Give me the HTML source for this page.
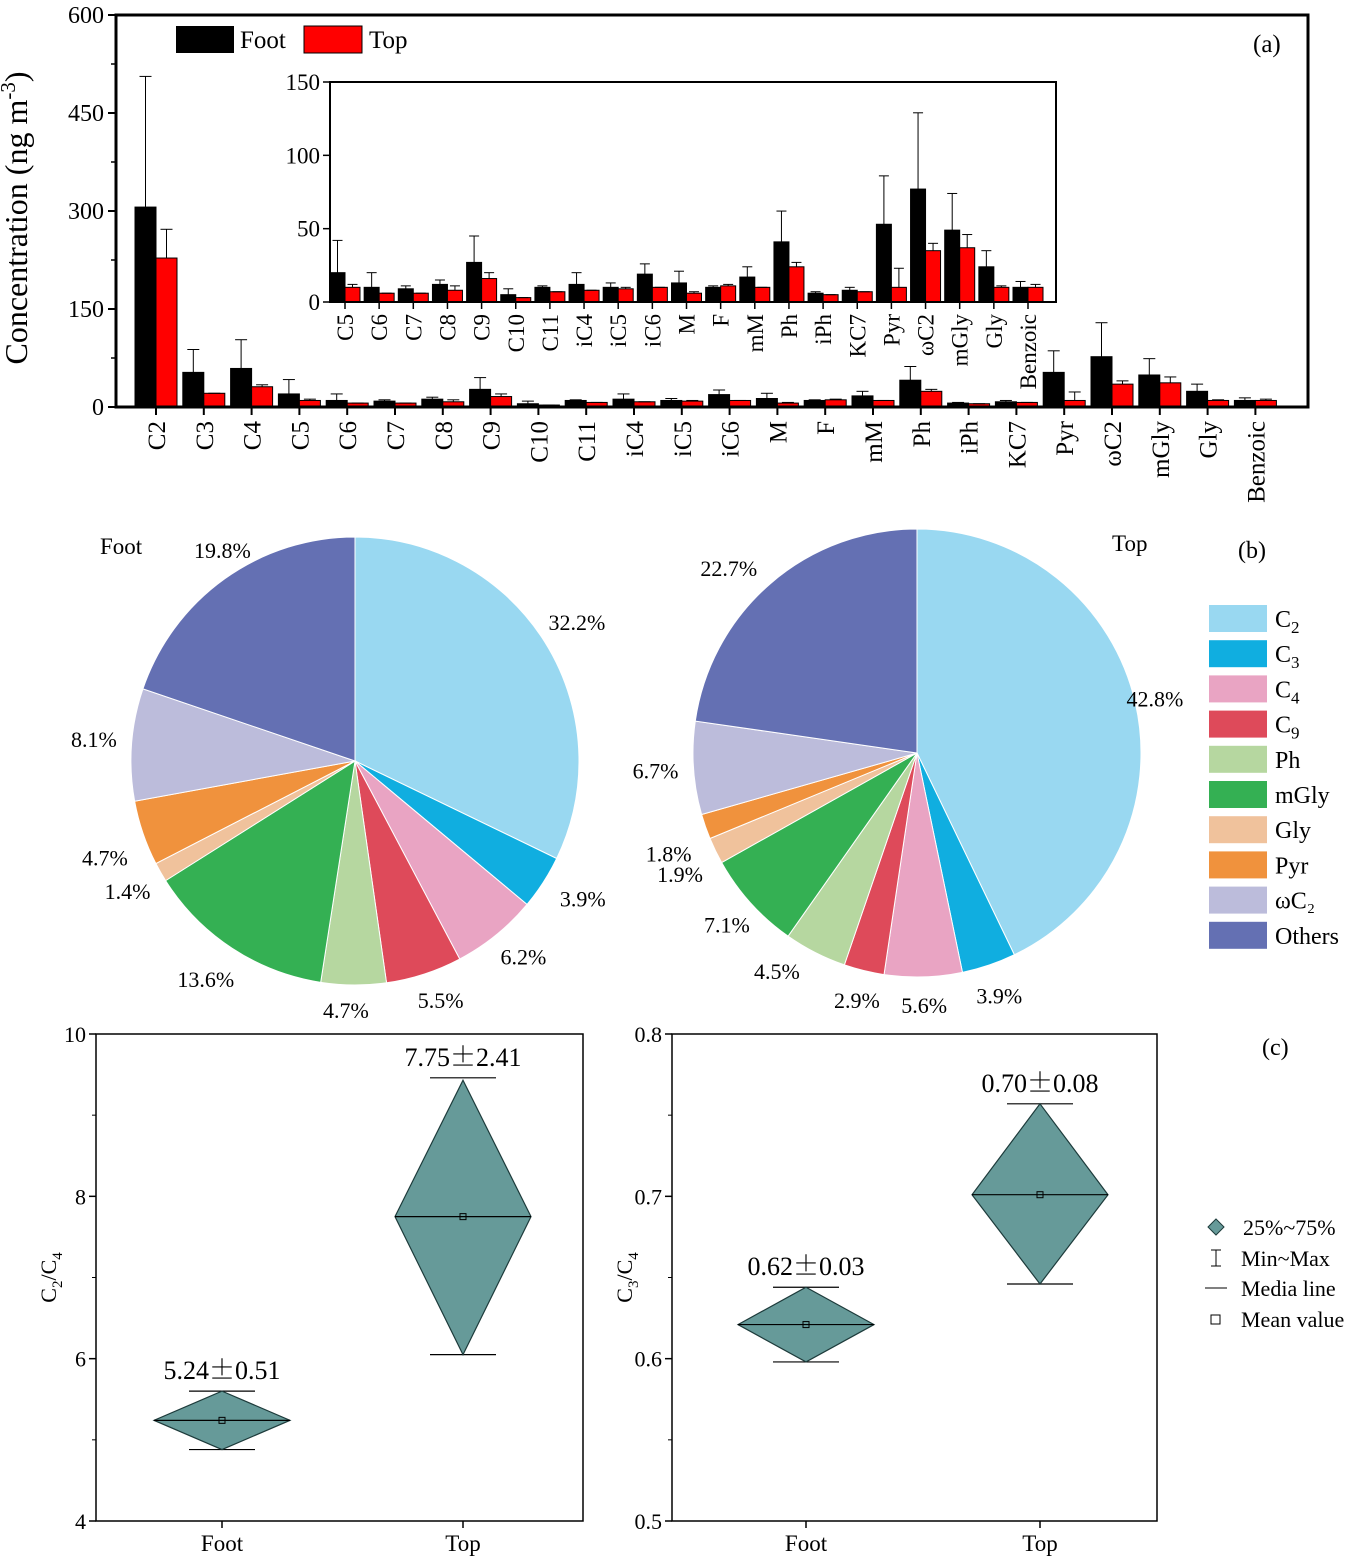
<!DOCTYPE html>
<html><head><meta charset="utf-8"><style>
body{margin:0;background:#fff;}
svg{display:block;font-family:"Liberation Serif","Noto Serif CJK SC",serif;}
</style></head><body>
<svg id="fig" width="1360" height="1560" viewBox="0 0 1360 1560"></svg>
<script>
const cats=["C2","C3","C4","C5","C6","C7","C8","C9","C10","C11","iC4","iC5","iC6","M","F","mM","Ph","iPh","KC7","Pyr","ωC2","mGly","Gly","Benzoic"];
const footVals=[306,53,59,20,10,9,12,27,5,10,12,10,19,13,10,17,41,6,8,53,77,49,24,10];
const topVals=[228,21,31,10,6,6,8,16,3,7,8,9,10,6,11,10,24,5,7,10,35,37,10,10];
const footErr=[506,88,103,42,20,11,15,45,9,11,20,13,26,21,11,24,62,7,10,86,129,74,35,14];
const topErr=[272,21,34,12,6,6,11,20,3,7,8,10,10,7,12,10,27,5,7,23,40,46,11,12];
const mainTicks=[0,150,300,450,600];
const insetTicks=[0,50,100,150];
const pieCats=["C₂","C₃","C₄","C₉","Ph","mGly","Gly","Pyr","ωC₂","Others"];
const pieColors=["#99d8f1","#10aee0","#e9a4c3","#de4a5a","#b6d7a0","#34b053","#f0c29c","#f0923d","#bcbcdb","#6470b3"];
const footPie=[32.2,3.9,6.2,5.5,4.7,13.6,1.4,4.7,8.1,19.8];
const topPie=[42.8,3.9,5.6,2.9,4.5,7.1,1.9,1.8,6.7,22.7];
const boxGroups=["Foot","Top"];
const c2c4Mean=[5.24,7.75],c2c4Q1=[4.88,6.05],c2c4Q3=[5.60,9.43],c2c4Min=[4.88,6.05],c2c4Max=[5.60,9.46];
const c2c4Lbl=["5.24|0.51","7.75|2.41"];
const c3c4Mean=[0.621,0.701],c3c4Q1=[0.598,0.646],c3c4Q3=[0.644,0.757],c3c4Min=[0.598,0.646],c3c4Max=[0.644,0.757];
const c3c4Lbl=["0.62|0.03","0.70|0.08"];
const c2c4Ticks=[4,6,8,10], c3c4Ticks=[0.5,0.6,0.7,0.8];

const S=document.getElementById('fig');const NS="http://www.w3.org/2000/svg";
function el(t,a,p,txt){const e=document.createElementNS(NS,t);for(const k in a)e.setAttribute(k,a[k]);if(txt!==undefined)e.textContent=txt;(p||S).appendChild(e);return e;}

// ---- Panel a
const gA=el('g',{});


const ax={l:116,r:1308,t:15,b:407};
const yA=v=>ax.b-(v/600)*(ax.b-ax.t);
const xA=i=>156+i*47.8;
mainTicks.forEach(v=>{el('line',{x1:ax.l-8,x2:ax.l,y1:yA(v),y2:yA(v),stroke:'#000','stroke-width':2},gA);
 const t=el('text',{x:ax.l-12,y:yA(v)+8,'text-anchor':'end','font-size':24},gA,v);
 });
for(let k=0;k<4;k++){const v=75+150*k;el('line',{x1:ax.l-5,x2:ax.l,y1:yA(v),y2:yA(v),stroke:'#000','stroke-width':1.5},gA);}
cats.forEach((c,i)=>{const x=xA(i);
 [[footVals,footErr,'#000',-21],[topVals,topErr,'#f00',0]].forEach(([vs,es,col,off])=>{
  const r=el('rect',{x:x+off,y:yA(vs[i]),width:21,height:ax.b-yA(vs[i]),fill:col,stroke:'#000','stroke-width':1},gA);
  
  const cx=x+off+10.5;el('line',{x1:cx,x2:cx,y1:yA(vs[i]),y2:yA(es[i]),stroke:'#000','stroke-width':1},gA);
  el('line',{x1:cx-6,x2:cx+6,y1:yA(es[i]),y2:yA(es[i]),stroke:'#000','stroke-width':1},gA);});
 el('line',{x1:x,x2:x,y1:ax.b,y2:ax.b+8,stroke:'#000','stroke-width':2},gA);
 const t=el('text',{transform:`translate(${x+9},${ax.b+14}) rotate(-90)`,'text-anchor':'end','font-size':25},gA,c);
 });
el('rect',{x:ax.l,y:ax.t,width:ax.r-ax.l,height:ax.b-ax.t,fill:'none',stroke:'#000','stroke-width':3},gA);
const yt=el('text',{transform:'translate(27,218) rotate(-90)','text-anchor':'middle','font-size':32},gA);
yt.innerHTML='Concentration (ng m<tspan dy="-12" font-size="21">-3</tspan><tspan dy="12">)</tspan>';

el('text',{x:1253,y:52,'font-size':25},gA,'(a)');
const lg=el('g',{},gA);
el('rect',{x:176,y:26,width:58,height:27,fill:'#000'},lg);el('text',{x:240,y:48,'font-size':25},lg,'Foot');
el('rect',{x:304,y:26,width:58,height:27,fill:'#f00',stroke:'#000'},lg);el('text',{x:369,y:48,'font-size':25},lg,'Top');
// inset
const ins={l:330,r:1056,t:82,b:302};
const yI=v=>ins.b-(v/150)*(ins.b-ins.t);
const xI=i=>345+i*34.15;
const gI=el('g',{},gA);
el('rect',{x:ins.l,y:ins.t,width:ins.r-ins.l,height:ins.b-ins.t,fill:'#fff'},gI);
insetTicks.forEach(v=>{el('line',{x1:ins.l-7,x2:ins.l,y1:yI(v),y2:yI(v),stroke:'#000','stroke-width':1.5},gI);
 el('text',{x:ins.l-10,y:yI(v)+8,'text-anchor':'end','font-size':23},gI,v);});
cats.slice(3).forEach((c,j)=>{const i=j+3,x=xI(j);
 [[footVals,footErr,'#000',-15],[topVals,topErr,'#f00',0]].forEach(([vs,es,col,off])=>{
  const r=el('rect',{x:x+off,y:yI(vs[i]),width:15,height:ins.b-yI(vs[i]),fill:col,stroke:'#000','stroke-width':1},gI);
  
  const cx=x+off+7.5;el('line',{x1:cx,x2:cx,y1:yI(vs[i]),y2:yI(es[i]),stroke:'#000','stroke-width':1},gI);
  el('line',{x1:cx-5,x2:cx+5,y1:yI(es[i]),y2:yI(es[i]),stroke:'#000','stroke-width':1},gI);});
 el('line',{x1:x,x2:x,y1:ins.b,y2:ins.b+7,stroke:'#000','stroke-width':1.5},gI);
 el('text',{transform:`translate(${x+8},${ins.b+12}) rotate(-90)`,'text-anchor':'end','font-size':23},gI,c);});
el('rect',{x:ins.l,y:ins.t,width:ins.r-ins.l,height:ins.b-ins.t,fill:'none',stroke:'#000','stroke-width':2},gI);

// ---- Panel b
function pie(cx,cy,R,vals,lbls,name,lblPos,angAdj){
 const g=el('g',{});
 const tot=vals.reduce((a,b)=>a+b,0);let a0=-Math.PI/2;
 vals.forEach((v,i)=>{const a1=a0+v/tot*2*Math.PI;
  const p=`M${cx},${cy} L${cx+R*Math.cos(a0)},${cy+R*Math.sin(a0)} A${R},${R} 0 ${a1-a0>Math.PI?1:0} 1 ${cx+R*Math.cos(a1)},${cy+R*Math.sin(a1)} Z`;
  const s=el('path',{d:p,fill:pieColors[i],stroke:'#fff','stroke-width':1},g);
  
  const am=(a0+a1)/2+angAdj[i],rr=R+lblPos[i];
  el('text',{x:cx+rr*Math.cos(am),y:cy+rr*Math.sin(am)+8,'text-anchor':'middle','font-size':22},g,v.toFixed(1)+'%');
  a0=a1;});
}
pie(355,761,224,footPie,pieCats,'pie-foot',[38,42,34,30,25,40,38,44,38,25],[0,-0.03,-0.03,-0.03,0.03,0.02,0,-0.04,0.01,0.06]);
pie(917,753,224,topPie,pieCats,'pie-top',[20,32,28,30,35,32,42,44,38,40],[0,0,0,0,0.1,0,-0.02,-0.05,0,-0.08]);
el('text',{x:100,y:554,'font-size':23},S,'Foot');
el('text',{x:1112,y:551,'font-size':23},S,'Top');
el('text',{x:1238,y:558,'font-size':24},S,'(b)');
const pl=el('g',{});
pieCats.forEach((c,i)=>{const y=605+i*35.2;
 el('rect',{x:1209,y:y,width:58,height:27,fill:pieColors[i]},pl);
 const t=el('text',{x:1275,y:y+22,'font-size':24},pl);
 if(c.length==2&&c[0]=='C'){const m={'₂':'2','₃':'3','₄':'4','₉':'9'};t.innerHTML=`C<tspan dy="6" font-size="17">${m[c[1]]}</tspan>`;}
 else t.textContent=c;});

// ---- Panel c
function box(L,R,T,B,lo,hi,ticks,mean,q1,q3,mn,mx,lbl,xs,title,name,fmt){
 const g=el('g',{});
 const y=v=>B-(v-lo)/(hi-lo)*(B-T);
 ticks.forEach(v=>{el('line',{x1:L-7,x2:L,y1:y(v),y2:y(v),stroke:'#000','stroke-width':1.5},g);
  el('text',{x:L-10,y:y(v)+8,'text-anchor':'end','font-size':22},g,fmt(v));});
 for(let k=0;k<ticks.length-1;k++){const v=(ticks[k]+ticks[k+1])/2;el('line',{x1:L-4,x2:L,y1:y(v),y2:y(v),stroke:'#000'},g);}
 boxGroups.forEach((gname,i)=>{const x=xs[i],w=68;
  el('line',{x1:x-33,x2:x+33,y1:y(mx[i]),y2:y(mx[i]),stroke:'#000','stroke-width':1.2},g);
  el('line',{x1:x-33,x2:x+33,y1:y(mn[i]),y2:y(mn[i]),stroke:'#000','stroke-width':1.2},g);
  const d=el('path',{d:`M${x},${y(q3[i])} L${x+w},${y(mean[i])} L${x},${y(q1[i])} L${x-w},${y(mean[i])} Z`,fill:'#669a99',stroke:'#1d3b3b','stroke-width':1.2},g);
  
  el('line',{x1:x-w,x2:x+w,y1:y(mean[i]),y2:y(mean[i]),stroke:'#000','stroke-width':1.2},g);
  el('rect',{x:x-3,y:y(mean[i])-3,width:6,height:6,fill:'none',stroke:'#000'},g);
  const parts=lbl[i].split('|');
  const t=el('text',{x:x,y:y(mx[i])-12,'text-anchor':'middle','font-size':26},g);
  t.innerHTML=`${parts[0]}<tspan font-family="Noto Serif CJK SC">±</tspan>${parts[1]}`;
  el('line',{x1:x,x2:x,y1:B,y2:B+7,stroke:'#000','stroke-width':1.5},g);
  el('text',{x:x,y:B+30,'text-anchor':'middle','font-size':23},g,gname);});
 el('rect',{x:L,y:T,width:R-L,height:B-T,fill:'none',stroke:'#000','stroke-width':1.5},g);
 const t=el('text',{transform:`translate(${L-40},${(T+B)/2}) rotate(-90)`,'text-anchor':'middle','font-size':22},g);
 t.innerHTML=title;
}
box(96,583,1034,1521,4,10,c2c4Ticks,c2c4Mean,c2c4Q1,c2c4Q3,c2c4Min,c2c4Max,c2c4Lbl,[222,463],'C<tspan dy="6" font-size="15">2</tspan><tspan dy="-6">/C</tspan><tspan dy="6" font-size="15">4</tspan>','box-c2-c4',v=>v);
box(672,1157,1034,1521,0.5,0.8,c3c4Ticks,c3c4Mean,c3c4Q1,c3c4Q3,c3c4Min,c3c4Max,c3c4Lbl,[806,1040],'C<tspan dy="6" font-size="15">3</tspan><tspan dy="-6">/C</tspan><tspan dy="6" font-size="15">4</tspan>','box-c3-c4',v=>v.toFixed(1));
el('text',{x:1262,y:1055,'font-size':24},S,'(c)');
const bl=el('g',{});
el('path',{d:'M1216,1219 L1224,1227 L1216,1235 L1208,1227 Z',fill:'#669a99',stroke:'#1d3b3b'},bl);
el('text',{x:1243,y:1235,'font-size':22},bl,'25%~75%');
el('path',{d:'M1211,1250 H1221 M1216,1250 V1266 M1211,1266 H1221',stroke:'#000',fill:'none'},bl);
el('text',{x:1241,y:1266,'font-size':22},bl,'Min~Max');
el('line',{x1:1205,x2:1227,y1:1288,y2:1288,stroke:'#000'},bl);
el('text',{x:1241,y:1296,'font-size':22},bl,'Media line');
el('rect',{x:1211,y:1315,width:9,height:9,fill:'none',stroke:'#000'},bl);
el('text',{x:1241,y:1327,'font-size':22},bl,'Mean value');
</script>
</body></html>
